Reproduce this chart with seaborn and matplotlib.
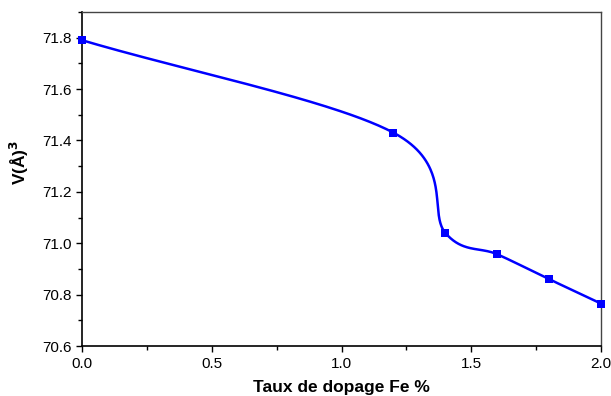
import numpy as np
import pandas as pd
import seaborn as sns
import matplotlib.pyplot as plt
from matplotlib.ticker import MultipleLocator

taux = [0.0, 1.2, 1.4, 1.6, 1.8, 2.0]
volume = [71.79, 71.43, 71.04, 70.957, 70.86, 70.765]


def catmull_rom(x, y, sx, sy, n=80):
    # smooth curve through the points (uniform Catmull-Rom, in screen scale)
    P = np.column_stack([np.asarray(x, float) * sx, np.asarray(y, float) * sy])
    k = len(P)
    m = np.zeros_like(P)
    m[0] = P[1] - P[0]
    m[-1] = P[-1] - P[-2]
    for i in range(1, k - 1):
        m[i] = (P[i + 1] - P[i - 1]) / 2
    s = np.linspace(0, 1, n)[:, None]
    h00 = 2 * s**3 - 3 * s**2 + 1
    h10 = s**3 - 2 * s**2 + s
    h01 = -2 * s**3 + 3 * s**2
    h11 = s**3 - s**2
    out = [h00 * P[i] + h10 * m[i] + h01 * P[i + 1] + h11 * m[i + 1]
           for i in range(k - 1)]
    out = np.vstack(out)
    return out[:, 0] / sx, out[:, 1] / sy


df = pd.DataFrame({'taux': taux, 'V': volume})
xs, ys = catmull_rom(taux, volume, 519 / 2.0, 257.5)
curve = pd.DataFrame({'taux': xs, 'V': ys})

sns.set_style('ticks')
plt.rcParams['font.family'] = ['Liberation Sans', 'DejaVu Sans']
plt.rcParams.update({'text.color': 'black', 'axes.labelcolor': 'black',
                     'xtick.color': 'black', 'ytick.color': 'black'})

fig = plt.figure(figsize=(6.11, 3.96), dpi=100)
ax = fig.add_axes([0.134, 0.126, 0.850, 0.844])
sns.lineplot(data=curve, x='taux', y='V', color='#0000ff', linewidth=1.8,
             sort=False, estimator=None, ax=ax)
sns.scatterplot(data=df, x='taux', y='V', color='#0000ff', marker='s', s=40,
                edgecolor='#0000ff', linewidth=0, ax=ax, zorder=3, clip_on=False)

ax.set_xlim(0, 2.0)
ax.set_ylim(70.6, 71.9)
ax.xaxis.set_major_locator(MultipleLocator(0.5))
ax.xaxis.set_minor_locator(MultipleLocator(0.25))
ax.yaxis.set_major_locator(MultipleLocator(0.2))
ax.yaxis.set_minor_locator(MultipleLocator(0.1))
ax.tick_params(which='major', length=4, width=1, labelsize=11, direction='out')
ax.tick_params(which='minor', length=3, width=1, direction='out')
for s in ['left', 'bottom']:
    ax.spines[s].set_linewidth(1.2)
    ax.spines[s].set_color('black')
for s in ['top', 'right']:
    ax.spines[s].set_linewidth(1.0)
    ax.spines[s].set_color('#444444')

ax.set_xlabel('Taux de dopage Fe %', fontsize=12.5, fontweight='bold', labelpad=7)
ax.set_ylabel(r'V(Å)$^\mathbf{3}$', fontsize=12.5, fontweight='bold')
ax.yaxis.set_label_coords(-0.098, 0.55)

fig.savefig('out.png', dpi=100)
